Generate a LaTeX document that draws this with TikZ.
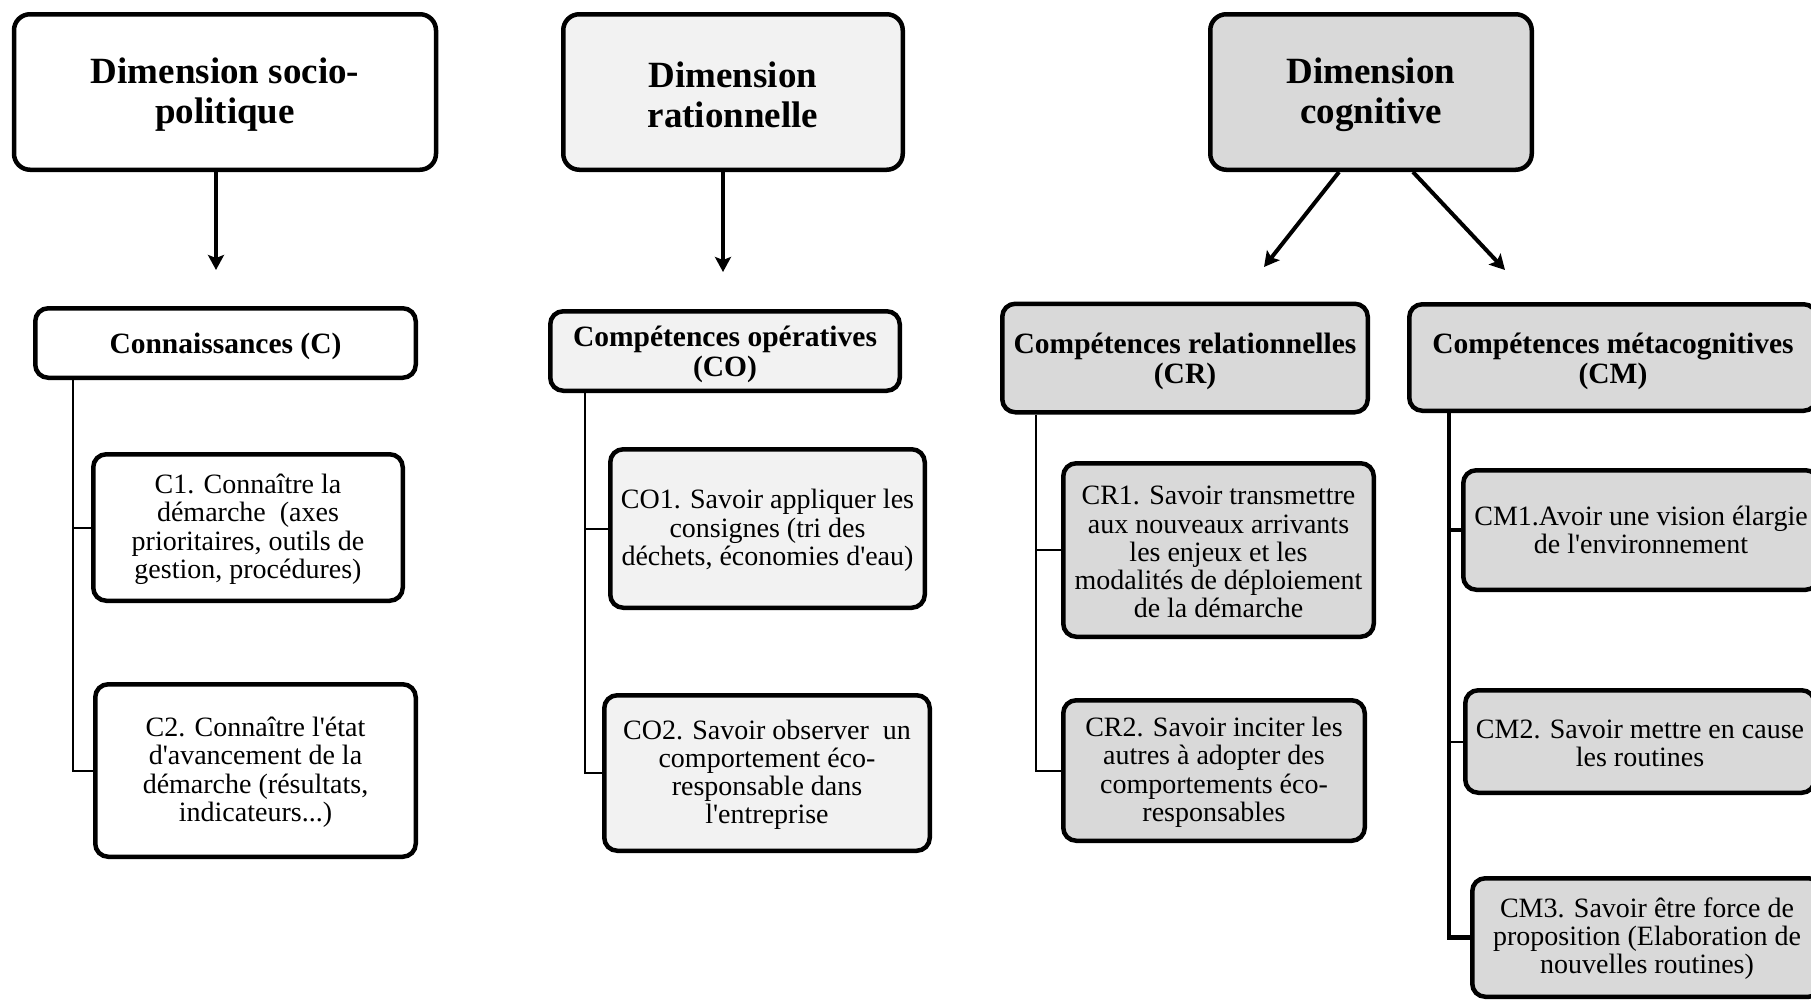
\documentclass[tikz,border=0pt]{standalone}
\usepackage{fontspec}
\setmainfont{Liberation Serif}
\usetikzlibrary{arrows.meta}
\definecolor{fillB}{HTML}{F2F2F2}
\definecolor{fillC}{HTML}{D9D9D9}
% invisible strut that sets the height of a first line
\newcommand\topline[1]{\rule{0pt}{#1}}
\newcommand\ap{\textquotesingle}
\begin{document}
\begin{tikzpicture}[x=0.5pt,y=-0.5pt,
  box/.style={draw=black, line width=2.25pt, rounded corners=6.5pt, align=center, inner sep=0pt},
  dimbox/.style={box, rounded corners=8pt, font=\bfseries\fontsize{18.5pt}{20pt}\selectfont},
  catbox/.style={box, font=\bfseries\fontsize{14.75pt}{15pt}\selectfont},
  itembox/.style={box, font=\fontsize{14pt}{14.15pt}\selectfont},
  down/.style={line width=2pt, -{Stealth[length=7.5pt,width=8pt,inset=1.5pt]}},
  tree/.style={line width=1pt},
  treebold/.style={line width=2.4pt},
]
\useasboundingbox (0,0) rectangle (1811,1001);
\fill[white] (0,0) rectangle (1811,1001);
\clip (0,0) rectangle (1811,1001);

% ---------- top level: the three dimensions ----------
\node[dimbox, fill=white, minimum width=211pt, minimum height=77.75pt] (H1) at (225,92)
  {\topline{15.5pt}Dimension socio-\\politique};
\node[dimbox, fill=fillB, minimum width=169.75pt, minimum height=77.75pt] (H2) at (733,92)
  {\topline{15.5pt}Dimension\\rationnelle};
\node[dimbox, fill=fillC, minimum width=160.75pt, minimum height=77.75pt] (H3) at (1371,92)
  {\topline{15.5pt}Dimension\\cognitive};

% ---------- second level: competence families ----------
\node[catbox, fill=white, minimum width=190.25pt, minimum height=34.75pt] (C) at (225.5,343)
  {\topline{13.8pt}Connaissances (C)};
\node[catbox, fill=fillB, minimum width=174.75pt, minimum height=39.75pt] (CO) at (725,351)
  {\topline{13.8pt}Compétences opératives\\(CO)};
\node[catbox, fill=fillC, minimum width=182.75pt, minimum height=54.25pt] (CR) at (1185,358)
  {\topline{13.8pt}Compétences relationnelles\\(CR)};
\node[catbox, fill=fillC, minimum width=203.75pt, minimum height=53.25pt] (CM) at (1613,357.5)
  {\topline{13.8pt}Compétences métacognitives\\(CM)};

% ---------- third level: individual competences ----------
\node[itembox, fill=white, minimum width=154.75pt, minimum height=73.25pt] (C1) at (248,527.5)
  {\topline{11.5pt}C1. Connaître la\\démarche~ (axes\\prioritaires, outils de\\gestion, procédures)};
\node[itembox, fill=white, minimum width=160.25pt, minimum height=86.25pt] (C2) at (255.5,770.5)
  {\topline{11.5pt}C2. Connaître l\ap état\\d\ap avancement de la\\démarche (résultats,\\indicateurs...)};

\node[itembox, fill=fillB, minimum width=157.25pt, minimum height=79.25pt] (CO1) at (767.5,528.5)
  {\topline{11.5pt}CO1. Savoir appliquer les\\consignes (tri des\\déchets, économies d\ap eau)};
\node[itembox, fill=fillB, minimum width=162.75pt, minimum height=77.75pt] (CO2) at (767,773)
  {\topline{11.5pt}CO2. Savoir observer~ un\\comportement éco-\\responsable dans\\l\ap entreprise};

\node[itembox, fill=fillC, minimum width=155.25pt, minimum height=86.75pt] (CR1) at (1218.5,550)
  {\topline{11.5pt}CR1. Savoir transmettre\\aux nouveaux arrivants\\les enjeux et les\\modalités de déploiement\\de la démarche};
\node[itembox, fill=fillC, minimum width=150.75pt, minimum height=70.25pt] (CR2) at (1214,770.5)
  {\topline{11.5pt}CR2. Savoir inciter les\\autres à adopter des\\comportements éco-\\responsables};

\node[itembox, fill=fillC, minimum width=177.75pt, minimum height=59.75pt] (CM1) at (1641,530)
  {CM1.Avoir une vision élargie\\de l\ap environnement};
\node[itembox, fill=fillC, minimum width=174.75pt, minimum height=51.25pt] (CM2) at (1640,741.5)
  {\topline{11pt}CM2. Savoir mettre en cause\\les routines};
\node[itembox, fill=fillC, minimum width=174.75pt, minimum height=59.25pt] (CM3) at (1647,937.5)
  {\topline{11pt}CM3. Savoir être force de\\proposition (Elaboration de\\nouvelles routines)};

% ---------- arrows between the levels ----------
\coordinate (a1) at (216,270);
\coordinate (a2) at (723,272);
\coordinate (s3l) at (1339,172);
\coordinate (s3r) at (1413,172);
\coordinate (a3l) at (1264,267);
\coordinate (a3r) at (1505,270);
\draw[down] (H1.south -| a1) -- (a1);
\draw[down] (H2.south -| a2) -- (a2);
\draw[down] (H3.south -| s3l) -- (a3l);
\draw[down] (H3.south -| s3r) -- (a3r);

% ---------- tree connectors ----------
\coordinate (tC) at (73,0);
\coordinate (tCO) at (585,0);
\coordinate (tCR) at (1036,0);
\coordinate (tCM) at (1449,0);

\draw[tree] (C.south -| tC) |- (C2.west);
\draw[tree] (tC |- C1.west) -- (C1.west);

\draw[tree] (CO.south -| tCO) |- (CO2.west);
\draw[tree] (tCO |- CO1.west) -- (CO1.west);

\draw[tree] (CR.south -| tCR) |- (CR2.west);
\draw[tree] (tCR |- CR1.west) -- (CR1.west);

\draw[treebold] (CM.south -| tCM) |- (CM3.west);
\draw[treebold] (tCM |- CM1.west) -- (CM1.west);
\draw[tree] (tCM |- CM2.west) -- (CM2.west);
\end{tikzpicture}
\end{document}
